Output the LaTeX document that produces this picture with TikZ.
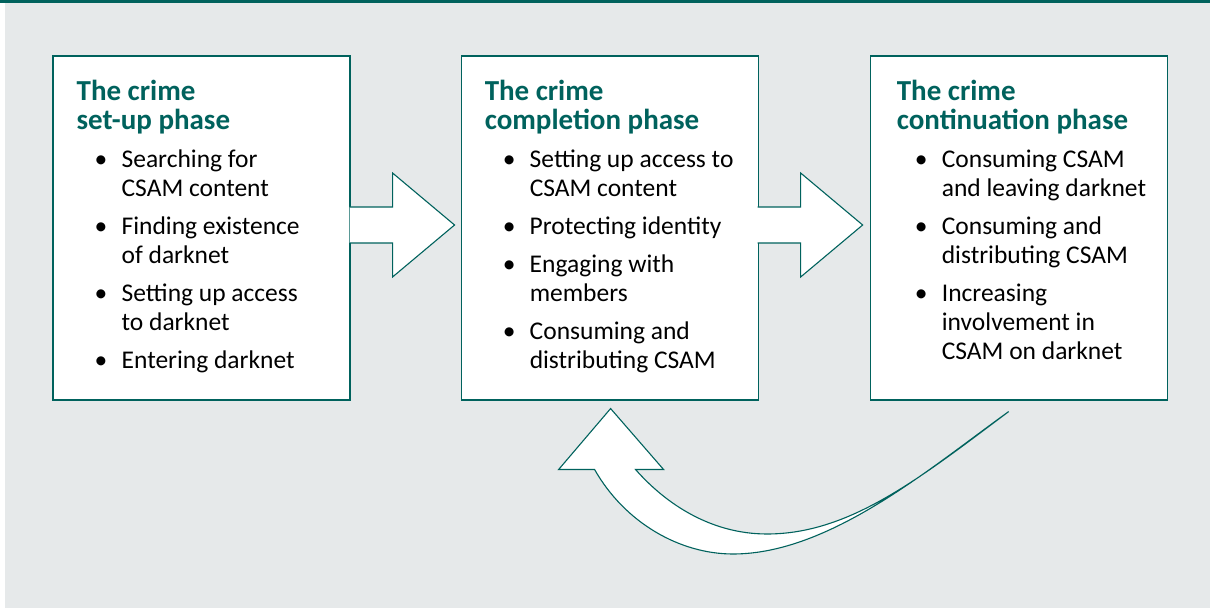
\documentclass[tikz,border=0pt]{standalone}
\usepackage{fontspec}
\setmainfont{Carlito}
\usetikzlibrary{calc,positioning}

\definecolor{phaseteal}{HTML}{00625D}
\definecolor{bggray}{HTML}{E6E9EA}

\newcommand{\phasetitle}[1]{\leavevmode{\color{phaseteal}\bfseries\fontsize{29}{29}\selectfont #1\par}\leftskip=18pt}
\newcommand{\bitem}[1]{\par\hangindent=27pt\hangafter=1\makebox[27pt][l]{\textbullet}{\let\\\newline #1}}
\newcommand{\phasebody}[1]{\begin{minipage}[t]{280pt}\raggedright\fontsize{25.5}{29}\selectfont
    \setlength{\parskip}{9pt}\setlength{\parindent}{0pt}#1\par\end{minipage}}

\begin{document}
\begin{tikzpicture}[x=1pt, y=1pt,
    phase/.style={draw=phaseteal, line width=1.1pt, fill=white, minimum width=297pt, minimum height=344pt, inner sep=0pt},
    phasetext/.style={inner sep=0pt, anchor=base west},
    blockarrow/.style={draw=phaseteal, line width=1.1pt, fill=white, line join=miter}]
        \useasboundingbox (0,0) rectangle (1210,608);
        \fill[white] (0,0) rectangle (1210,608);
        \fill[bggray] (5,0) rectangle (1210,605);
        \fill[phaseteal] (0,605) rectangle (1210,608);

        \node[phase] (setup) at (201.5,380) {};
        \node[phase, right=110pt of setup] (completion) {};
        \node[phase, right=111pt of completion] (continuation) {};

        \node[phasetext] (setuptext) at ($(setup.north west)+(24,-45)$) {\phasebody{%
            \phasetitle{The crime\\set-up phase}%
            \bitem{Searching for\\CSAM content}%
            \bitem{Finding existence\\of darknet}%
            \bitem{Setting up access\\to darknet}%
            \bitem{Entering darknet}}};
        \node[phasetext] (completiontext) at ($(completion.north west)+(24,-45)$) {\phasebody{%
            \phasetitle{The crime\\completion phase}%
            \bitem{Setting up access to\\CSAM content}%
            \bitem{Protecting identity}%
            \bitem{Engaging with\\members}%
            \bitem{Consuming and\\distributing CSAM}}};
        \node[phasetext] (continuationtext) at ($(continuation.north west)+(27,-45)$) {\phasebody{%
            \phasetitle{The crime\\continuation phase}%
            \bitem{Consuming CSAM\\and leaving darknet}%
            \bitem{Consuming and\\distributing CSAM}%
            \bitem{Increasing\\involvement in\\CSAM on darknet}}};

        % block arrows between the phases
        \foreach \from in {setup,completion}
            \path[blockarrow] ($(\from.east)+(-1,21)$) -- ($(\from.east)+(42,21)$) -- ($(\from.east)+(42,55)$)
                -- ($(\from.east)+(104,3)$) -- ($(\from.east)+(42,-49)$) -- ($(\from.east)+(42,-15)$) -- ($(\from.east)+(-1,-15)$);

        % curved arrow back to the completion phase
        \coordinate (tip) at ($(completion.south)+(1,-8)$);
        \coordinate (tail) at ($(continuation.south)+(-10,-11)$);
        \path[blockarrow] ($(tip)+(-16,-61)$) -- ($(tip)+(-52,-61)$) -- (tip) -- ($(tip)+(53,-61)$) -- ($(tip)+(25,-61)$)
            .. controls (665,105) and (710,74) .. (767,74) .. controls (850,74) and (920,130) .. (tail)
            .. controls (930,140) and (830,54) .. (733,54) .. controls (680,54) and (625,85) .. ($(tip)+(-16,-61)$) -- cycle;
    \end{tikzpicture}
\end{document}
